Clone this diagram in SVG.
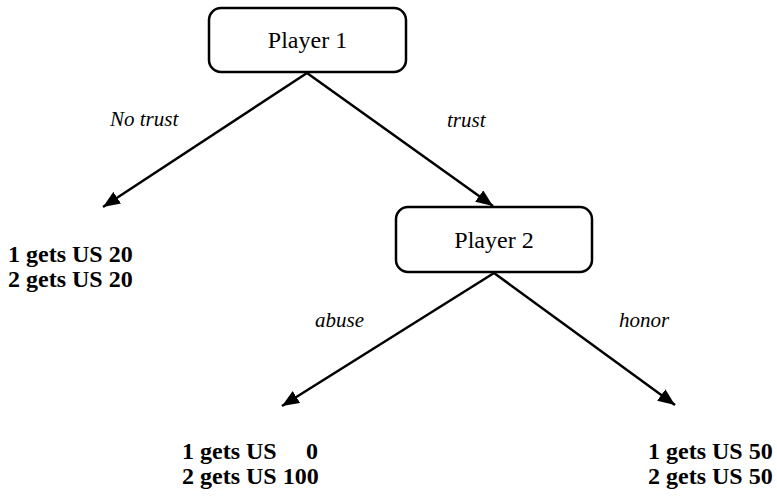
<svg xmlns="http://www.w3.org/2000/svg" width="777" height="497" viewBox="0 0 777 497">
<defs>
<marker id="ah" markerWidth="18" markerHeight="14" refX="17" refY="7" orient="auto" markerUnits="userSpaceOnUse">
<path d="M0,0 L17,7 L0,14 Z" fill="#000"/>
</marker>
<style>
.box{fill:#fff;stroke:#000;stroke-width:2.5}
.edge{stroke:#000;stroke-width:2.5;fill:none;marker-end:url(#ah)}
text{font-family:'Liberation Serif','Times New Roman',Times,'DejaVu Serif',serif}
.name{font-size:24px;text-anchor:middle}
.lbl{font-size:21px;font-style:italic}
.pay{font-size:24px;font-weight:bold}
</style>
</defs>
<rect width="777" height="497" fill="#fff"/>
<g id="connectors">
<line class="edge" x1="307" y1="73" x2="103" y2="207"/>
<line class="edge" x1="307" y1="73" x2="493" y2="206"/>
<line class="edge" x1="494" y1="273" x2="282" y2="406"/>
<line class="edge" x1="494" y1="273" x2="675" y2="405"/>
<text class="lbl" x="110" y="126">No trust</text>
<text class="lbl" x="447" y="127">trust</text>
<text class="lbl" x="315" y="327">abuse</text>
<text class="lbl" x="619" y="327">honor</text>
</g>
<g id="player1">
<rect class="box" x="209" y="8" width="197" height="64" rx="12"/>
<text class="name" x="307.5" y="48">Player 1</text>
</g>
<g id="player2">
<rect class="box" x="396" y="207" width="196" height="65" rx="12"/>
<text class="name" x="494" y="248">Player 2</text>
</g>
<g id="payoff-notrust">
<text class="pay" x="8" y="262">1 gets US 20</text>
<text class="pay" x="8" y="287">2 gets US 20</text>
</g>
<g id="payoff-abuse">
<text class="pay" x="182" y="459">1 gets US<tspan x="318" text-anchor="end">0</tspan></text>
<text class="pay" x="182" y="484">2 gets US 100</text>
</g>
<g id="payoff-honor">
<text class="pay" x="648" y="459">1 gets US 50</text>
<text class="pay" x="648" y="484">2 gets US 50</text>
</g>
</svg>
